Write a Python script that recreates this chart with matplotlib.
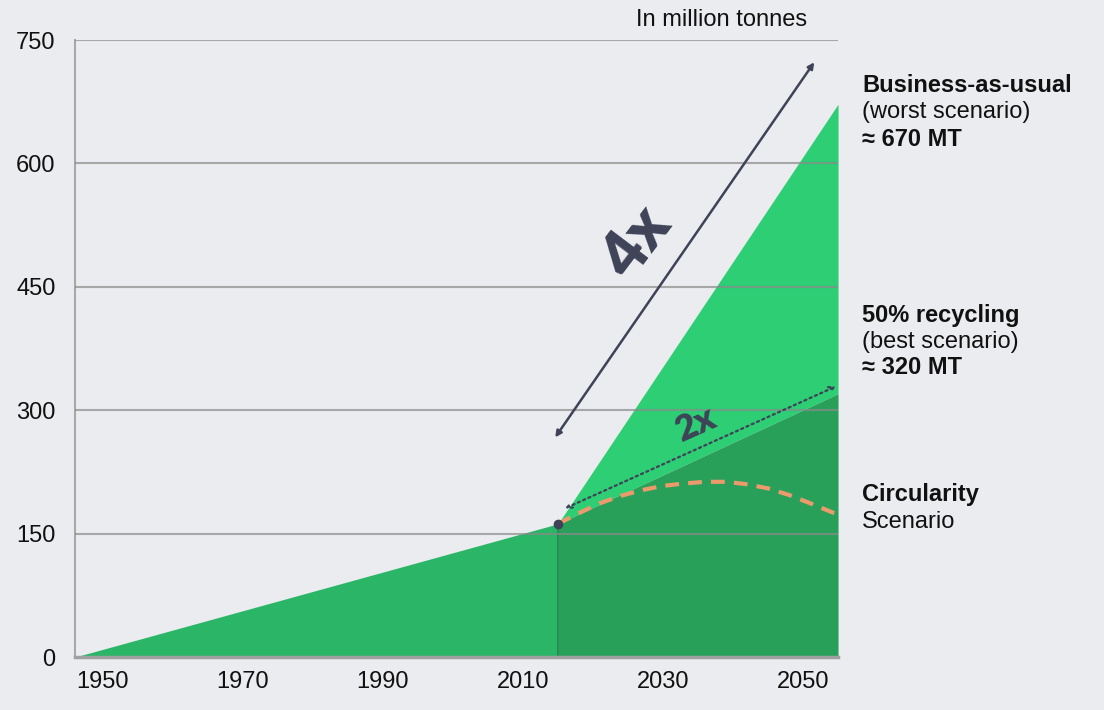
import matplotlib
matplotlib.use('Agg')
import matplotlib.pyplot as plt

# data (million tonnes)
hist_years = [1946, 2015]
hist_vals = [0, 162]

bau_years = [2015, 2055]
bau_vals = [162, 672]

recyc_years = [2015, 2055]
recyc_vals = [162, 320]

circ_years = [2015, 2018, 2021, 2024, 2027, 2030, 2033, 2036, 2039, 2042, 2045, 2048, 2051, 2053, 2055]
circ_vals = [162, 175, 187, 196, 203, 208, 211, 213, 213, 210, 205, 197, 187, 180, 173]

xticks = [1950, 1970, 1990, 2010, 2030, 2050]
yticks = [0, 150, 300, 450, 600, 750]

bg = '#ebecef'
dark = '#3f4358'
fnt = ['Liberation Sans Narrow', 'Liberation Sans', 'DejaVu Sans']
plt.rcParams['font.family'] = fnt

fig = plt.figure(figsize=(11.04, 7.10), dpi=100, facecolor=bg)
ax = fig.add_axes([0.0679, 0.0746, 0.6912, 0.869])
ax.set_facecolor(bg)

ax.fill_between(hist_years, 0, hist_vals, color='#2bb567', lw=0)
ax.fill_between(bau_years, recyc_vals, bau_vals, color='#2dce74', lw=0)
ax.fill_between(recyc_years, 0, recyc_vals, color='#28a05a', lw=0)
ax.plot([hist_years[-1]] * 2, [0, hist_vals[-1]], color='#1e7a45', lw=1.2, alpha=0.8)

for v in yticks[1:]:
    ax.axhline(v, color='#8a8a8a', lw=1.5, alpha=0.7, zorder=3)

ax.plot(circ_years, circ_vals, color='#ec9a6c', lw=3, ls=(0, (3.3, 2.2)), zorder=4)
ax.plot(hist_years[-1], hist_vals[-1], 'o', color=dark, ms=6, zorder=5)

# 4x arrow
ax.annotate('', xy=(2051.6, 723), xytext=(2014.6, 267),
            arrowprops=dict(arrowstyle='<|-|>', color=dark, lw=1.8,
                            mutation_scale=9, shrinkA=0, shrinkB=0), zorder=5)
ax.text(2026.3, 503, '4x', rotation=53, rotation_mode='anchor', ha='center', va='center',
        fontsize=46, fontweight='heavy', color=dark, family='Lato', zorder=5)

# 2x arrow
ax.annotate('', xy=(2054.7, 329), xytext=(2016.0, 180.7),
            arrowprops=dict(arrowstyle='<->', color=dark, lw=1.6, ls=(0, (1, 1.6)),
                            mutation_scale=9, shrinkA=0, shrinkB=0), zorder=5)
ax.text(2034.8, 283, '2x', rotation=24, rotation_mode='anchor', ha='center', va='center',
        fontsize=26, fontweight='heavy', color=dark, family='Lato', zorder=5)

ax.set_xlim(1946, 2055)
ax.set_ylim(0, 750)
ax.set_xticks(xticks)
ax.set_yticks(yticks)
ax.tick_params(length=0, labelsize=17, colors='#111111')
ax.tick_params(axis='y', pad=14)
ax.tick_params(axis='x', pad=10)
for s in ['top', 'right']:
    ax.spines[s].set_visible(False)
ax.spines['left'].set_color('#a8a8a8')
ax.spines['left'].set_linewidth(1.5)
ax.spines['bottom'].set_color('#a0a0a0')
ax.spines['bottom'].set_linewidth(2.5)

fig.text(722 / 1104, 1 - 20 / 710, 'In million tonnes', ha='center', va='center',
         fontsize=17, color='#111111')

lx = 862 / 1104
def side(y, txt, bold):
    fig.text(lx, 1 - y / 710, txt, ha='left', va='center', fontsize=17,
             fontweight='bold' if bold else 'normal', color='#111111')

side(85, 'Business-as-usual', True)
side(112, '(worst scenario)', False)
side(139, '≈ 670 MT', True)
side(315, '50% recycling', True)
side(342, '(best scenario)', False)
side(368, '≈ 320 MT', True)
side(495, 'Circularity', True)
side(522, 'Scenario', False)

fig.savefig('out.png', dpi=100, facecolor=bg)
